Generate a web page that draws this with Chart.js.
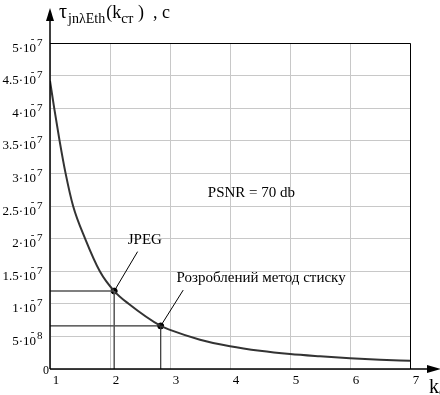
<!DOCTYPE html>
<html><head><meta charset="utf-8">
<script src="https://cdn.jsdelivr.net/npm/chart.js@4/dist/chart.umd.min.js"></script>
<style>html,body{margin:0;padding:0;background:#fff}</style>
</head><body>
<canvas id="c" width="440" height="395"></canvas>
<script>
// curve: tau_jnλEth(k_ст), seconds
const kValues   = [1.0, 1.07, 1.16, 1.26, 1.385, 1.585, 1.83, 2.07, 2.31, 2.845, 3.0, 3.5, 4.0, 4.5, 5.0, 5.5, 6.0, 6.5, 7.0];
const tauValues = [4.42e-7, 4.0e-7, 3.5e-7, 3.0e-7, 2.5e-7, 2.0e-7, 1.5e-7, 1.195e-7, 1.0e-7, 0.66e-7, 0.60e-7, 0.45e-7, 0.35e-7, 0.28e-7, 0.23e-7, 0.195e-7, 0.165e-7, 0.143e-7, 0.125e-7];
// marked points
const markNames = ["JPEG", "Розроблений метод стиску"];
const markK     = [2.07, 2.845];
const markTau   = [1.195e-7, 0.66e-7];
// label anchor positions (data units) and leader-line ends
const labelK    = [2.58, 3.11];
const labelTau  = [1.98e-7, 1.39e-7];
const leaderK   = [2.46, 3.22];
const leaderTau = [1.80e-7, 1.21e-7];
const noteText = "PSNR = 70 db";
const noteK = 3.63, noteTau = 2.70e-7;
// axis ticks
const xTickLabels = ["1","2","3","4","5","6","7"];
const yTickValues = [0,0.5e-7,1e-7,1.5e-7,2e-7,2.5e-7,3e-7,3.5e-7,4e-7,4.5e-7,5e-7];
const yTickMant   = ["0","5·10","1·10","1.5·10","2·10","2.5·10","3·10","3.5·10","4·10","4.5·10","5·10"];
const yTickExp    = ["","8","7","7","7","7","7","7","7","7","7"];
const yTitle = {main:"τ", sub:"jnλEth", arg:"(k", argSub:"ст", tail:" )  , c"};
const xTitle = {main:"k", sub:"ст"};

const SERIF = '"Liberation Serif", "DejaVu Serif", serif';
const curve = kValues.map((k,i)=>({x:k,y:tauValues[i]}));

const overlay = {
  id:'overlay',
  afterDraw(chart){
    const c = chart.ctx, a = chart.chartArea, xs = chart.scales.x, ys = chart.scales.y;
    c.save();
    // box
    c.strokeStyle = '#000'; c.lineWidth = 1;
    c.beginPath(); c.moveTo(a.left, a.top+0.5); c.lineTo(a.right+0.5, a.top+0.5); c.lineTo(a.right+0.5, a.bottom); c.stroke();
    // axes
    c.lineWidth = 1.5;
    c.beginPath(); c.moveTo(a.left, a.bottom); c.lineTo(a.left, 20); c.stroke();
    c.beginPath(); c.moveTo(a.left, a.bottom); c.lineTo(428, a.bottom); c.stroke();
    c.fillStyle = '#000';
    c.beginPath(); c.moveTo(a.left, 8); c.lineTo(a.left-4, 21); c.lineTo(a.left+4, 21); c.closePath(); c.fill();
    c.beginPath(); c.moveTo(441, a.bottom); c.lineTo(427, a.bottom-4); c.lineTo(427, a.bottom+4); c.closePath(); c.fill();
    // y tick labels
    c.textBaseline = 'alphabetic';
    yTickValues.forEach((v,i)=>{
      const y = ys.getPixelForValue(v);
      if (!yTickExp[i]) {
        c.font = '12px '+SERIF; c.textAlign='right';
        c.fillText(yTickMant[i], 49, y+5);
        return;
      }
      c.font = '13px '+SERIF; c.textAlign='right';
      c.fillText(yTickMant[i], 36, y+8.5);
      c.font = '11px '+SERIF; c.textAlign='center';
      c.fillText('-', 32.5, y-1);
      c.textAlign='left';
      c.fillText(yTickExp[i], 37, y+2.5);
    });
    // x tick labels
    c.font = '13px '+SERIF; c.textAlign='center';
    xTickLabels.forEach((t,i)=>{
      c.fillText(t, xs.getPixelForValue(i+1)+6, a.bottom+15);
    });
    // y title
    c.textAlign='left';
    let x = 59;
    c.font = '20px '+SERIF; c.fillText(yTitle.main, x, 18); x += c.measureText(yTitle.main).width+1;
    c.font = '14px '+SERIF; c.fillText(yTitle.sub, x, 23); x += c.measureText(yTitle.sub).width+1;
    c.font = '18px '+SERIF; c.fillText(yTitle.arg, x, 18); x += c.measureText(yTitle.arg).width;
    c.font = '14px '+SERIF; c.fillText(yTitle.argSub, x, 23); x += c.measureText(yTitle.argSub).width;
    c.font = '18px '+SERIF; c.fillText(yTitle.tail, x, 18);
    // x title
    c.font = '20px '+SERIF; c.fillText(xTitle.main, 429, 393);
    c.font = '14px '+SERIF; c.fillText(xTitle.sub, 439, 396);
    // leaders and labels
    c.strokeStyle = '#000'; c.lineWidth = 1;
    markK.forEach((k,i)=>{
      c.beginPath();
      c.moveTo(xs.getPixelForValue(k), ys.getPixelForValue(markTau[i]));
      c.lineTo(xs.getPixelForValue(leaderK[i]), ys.getPixelForValue(leaderTau[i]));
      c.stroke();
    });
    c.font = '15px '+SERIF; c.textBaseline='middle';
    c.textAlign='center';
    c.fillText(markNames[0], xs.getPixelForValue(labelK[0]), ys.getPixelForValue(labelTau[0]));
    c.textAlign='left';
    c.fillText(markNames[1], xs.getPixelForValue(labelK[1]), ys.getPixelForValue(labelTau[1]));
    c.fillText(noteText, xs.getPixelForValue(noteK), ys.getPixelForValue(noteTau));
    c.restore();
  }
};

new Chart(document.getElementById('c'), {
  type:'scatter',
  data:{datasets:[
    {data:[{x:1,y:markTau[0]},{x:markK[0],y:markTau[0]},{x:markK[0],y:0}], showLine:true, borderColor:'#555', borderWidth:1.5, pointRadius:0, tension:0},
    {data:[{x:1,y:markTau[1]},{x:markK[1],y:markTau[1]},{x:markK[1],y:0}], showLine:true, borderColor:'#333', borderWidth:1.2, pointRadius:0, tension:0},
    {data:curve, showLine:true, borderColor:'#333', borderWidth:2, pointRadius:0, cubicInterpolationMode:'monotone'},
    {data:markK.map((k,i)=>({x:k,y:markTau[i]})), showLine:false, pointRadius:3, backgroundColor:'#000', borderColor:'#000'}
  ]},
  options:{
    responsive:false, animation:false, devicePixelRatio:1,
    layout:{padding:{left:50,right:30,top:43,bottom:26}},
    plugins:{legend:{display:false}, tooltip:{enabled:false}},
    scales:{
      x:{type:'linear', min:1, max:7, ticks:{display:false, stepSize:1}, grid:{color:'#c8c8c8', lineWidth:1, drawTicks:false}, border:{display:false}},
      y:{min:0, max:5e-7, ticks:{display:false, stepSize:0.5e-7}, grid:{color:'#c8c8c8', lineWidth:1, drawTicks:false}, border:{display:false}}
    }
  },
  plugins:[overlay]
});
</script>
</body></html>
